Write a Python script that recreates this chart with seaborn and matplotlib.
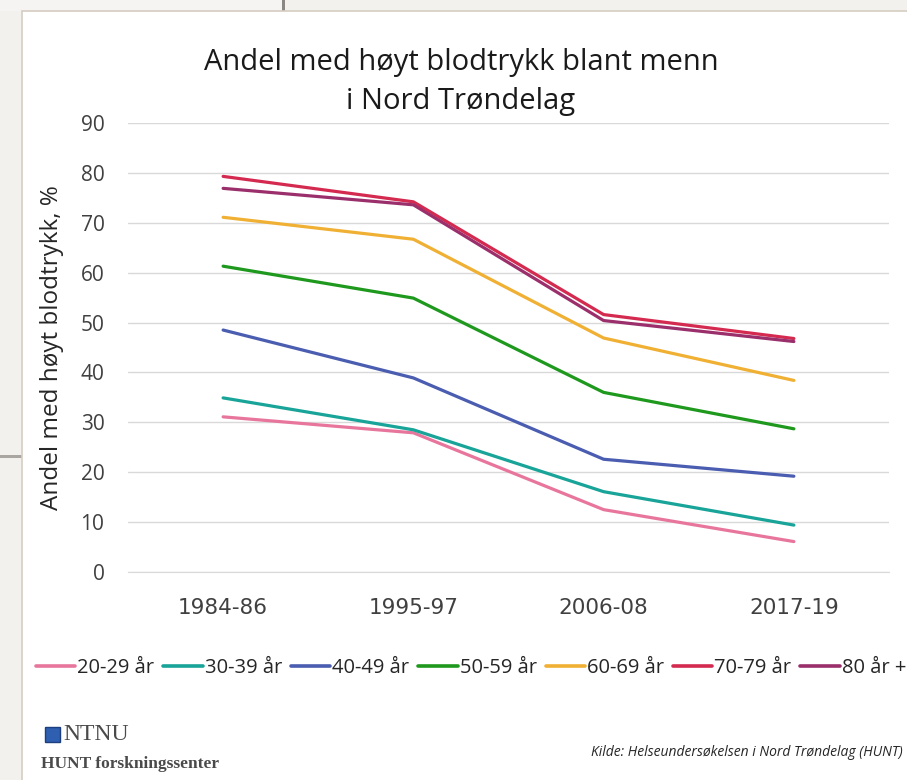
import numpy as np
import pandas as pd
import matplotlib
matplotlib.use('Agg')
import matplotlib.pyplot as plt
from matplotlib.patches import Rectangle
import seaborn as sns

# Data
perioder = ['1984-86', '1995-97', '2006-08', '2017-19']
grupper = ['20-29 år', '30-39 år', '40-49 år', '50-59 år', '60-69 år', '70-79 år', '80 år +']
v_20_29 = [31.1, 27.9, 12.5, 6.1]
v_30_39 = [34.9, 28.5, 16.1, 9.4]
v_40_49 = [48.5, 38.9, 22.6, 19.2]
v_50_59 = [61.3, 54.9, 36.0, 28.7]
v_60_69 = [71.1, 66.7, 46.9, 38.4]
v_70_79 = [79.3, 74.2, 51.6, 46.8]
v_80 = [76.9, 73.6, 50.4, 46.2]
farger = ['#e8769c', '#19a499', '#4a5db0', '#1e991e', '#f0b034', '#d42a50', '#9a2f6c']

verdier = [v_20_29, v_30_39, v_40_49, v_50_59, v_60_69, v_70_79, v_80]
df = pd.DataFrame({
    'periode': perioder * len(grupper),
    'gruppe': np.repeat(grupper, len(perioder)),
    'andel': np.concatenate(verdier),
})

sns.set_style('white')
plt.rcParams['font.family'] = ['Open Sans', 'DejaVu Sans']

fig = plt.figure(figsize=(9.07, 7.8), dpi=100, facecolor='#f2f1ee')

# screenshot-bakgrunn (vinduskant)
def bakgrunn(x0, y0, w, h, farge, kant='none'):
    fig.patches.append(Rectangle((x0 / 907, 1 - (y0 + h) / 780), w / 907, h / 780,
                                 transform=fig.transFigure, facecolor=farge, edgecolor=kant,
                                 linewidth=1.2, zorder=-10))

bakgrunn(0, 0, 282, 11, '#f5f4f2')
bakgrunn(282, 0, 3, 11, '#8a8784')
bakgrunn(0, 455, 22, 3, '#a9a6a2')
bakgrunn(22, 11, 900, 780, 'white', '#d6cdc1')

ax = fig.add_axes([128 / 907, 1 - 572 / 780, 761 / 907, 449 / 780])
ax.set_facecolor('none')
ax.set_zorder(1)

sns.lineplot(data=df, x='periode', y='andel', hue='gruppe', hue_order=grupper,
             palette=dict(zip(grupper, farger)), linewidth=2.3, sort=False, ax=ax, legend=False)

ax.set_ylim(0, 90)
ax.set_xlim(-0.5, 3.5)
ax.set_yticks(range(0, 91, 10))
ax.yaxis.grid(True, color='#d9d9d9', linewidth=1)
ax.set_axisbelow(True)
for s in ['top', 'right', 'left']:
    ax.spines[s].set_visible(False)
ax.spines['bottom'].set_color('#d9d9d9')
ax.tick_params(axis='y', length=0, labelsize=15, colors='#404040', pad=17)
ax.tick_params(axis='x', length=5, color='#d9d9d9', labelsize=15.5, labelcolor='#404040', pad=14)
for lbl in ax.get_xticklabels():
    lbl.set_family(['DejaVu Sans'])
ax.set_xlabel('')
ax.set_ylabel('Andel med høyt blodtrykk, %', fontsize=17.5, color='#262626')
ax.yaxis.set_label_coords(-64 / 761, 0.5)

fig.text(461 / 907, 1 - 82 / 780, 'Andel med høyt blodtrykk blant menn\ni Nord Trøndelag',
         ha='center', va='center', fontsize=21, color='#1a1a1a', linespacing=1.45)

handles = [plt.Line2D([], [], color=c, linewidth=2.6) for c in farger]
fig.legend(handles, grupper, loc='center', bbox_to_anchor=(471 / 907, 1 - 668 / 780), ncol=7,
           frameon=False, fontsize=14.5, handlelength=1.95, handletextpad=0.1, columnspacing=0.45,
           labelcolor='#262626')

# NTNU-logo og kilde
fig.patches.append(Rectangle((45 / 907, 1 - 742 / 780), 15 / 907, 15 / 780, transform=fig.transFigure,
                             facecolor='#2f5fb0', edgecolor='#1d3f80', zorder=2))
fig.text(63 / 907, 1 - 735 / 780, 'NTNU', ha='left', va='center', fontsize=17,
         family=['Liberation Serif', 'DejaVu Serif'], color='#4a4a4a')
fig.text(41 / 907, 1 - 764 / 780, 'HUNT forskningssenter', ha='left', va='center', fontsize=12.5,
         family=['Liberation Serif', 'DejaVu Serif'], color='#4a4a4a', fontweight='bold')
fig.text(903 / 907, 1 - 752 / 780, 'Kilde: Helseundersøkelsen i Nord Trøndelag (HUNT)',
         ha='right', va='center', fontsize=10, style='italic', color='#262626')

fig.savefig('out.png', dpi=100, facecolor=fig.get_facecolor())
